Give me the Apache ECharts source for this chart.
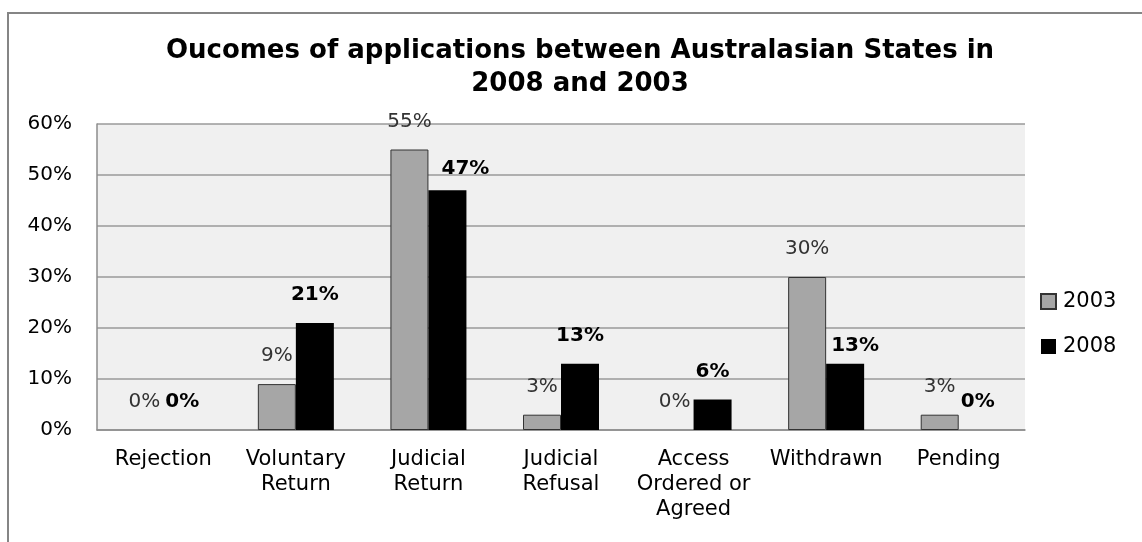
<!DOCTYPE html>
<html>
<head>
<meta charset="utf-8">
<style>
  html, body { margin: 0; padding: 0; background: #fff; }
  #chart { width: 1142px; height: 542px; }
</style>
<script src="https://cdn.jsdelivr.net/npm/echarts@6/dist/echarts.min.js"></script>
</head>
<body>
<div id="chart"></div>
<script>
// Outcome categories (x axis)
const categories = [
  'Rejection',
  'Voluntary\nReturn',
  'Judicial\nReturn',
  'Judicial\nRefusal',
  'Access\nOrdered or\nAgreed',
  'Withdrawn',
  'Pending'
];

// Share of applications per outcome, in percent
const values2003 = [0, 9, 55, 3, 0, 30, 3];
const values2008 = [0, 21, 47, 13, 6, 13, 0];

// Value axis ticks
const yMin = 0;
const yMax = 60;
const yStep = 10;

const FONT = 'DejaVu Sans';

// Nudges for 2008 labels that would otherwise collide with the neighbouring bar
const labelNudge2008 = { 2: [18, 6], 5: [10, 10] };

// Zero-height bars get no outline so they vanish into the axis
function toBarData(values, nudges) {
  return values.map((v, i) => {
    const item = { value: v };
    if (v === 0) item.itemStyle = { borderWidth: 0 };
    if (nudges && nudges[i]) item.label = { offset: nudges[i] };
    return item;
  });
}

const chart = echarts.init(document.getElementById('chart'));

chart.setOption({
  backgroundColor: '#ffffff',
  textStyle: { fontFamily: FONT },
  animation: false,
  graphic: [{
    type: 'rect',
    shape: { x: 8, y: 13, width: 1200, height: 600 },
    style: { fill: 'none', stroke: '#858585', lineWidth: 2 },
    silent: true
  }],
  title: {
    text: 'Oucomes of applications between Australasian States in\n2008 and 2003',
    left: 580,
    textAlign: 'center',
    top: 35,
    padding: 0,
    textStyle: {
      fontFamily: FONT,
      fontSize: 26,
      fontWeight: 'bold',
      color: '#000',
      lineHeight: 33
    }
  },
  legend: {
    orient: 'vertical',
    left: 1040,
    top: 291,
    padding: 0,
    itemWidth: 15,
    itemHeight: 15,
    itemGap: 24,
    icon: 'rect',
    textStyle: { fontFamily: FONT, fontSize: 21, color: '#000', padding: [0, 0, 0, 2] },
    data: ['2003', '2008']
  },
  grid: {
    left: 97,
    top: 124,
    right: 117,
    bottom: 112,
    show: true,
    backgroundColor: '#f0f0f0',
    borderWidth: 0
  },
  xAxis: {
    type: 'category',
    data: categories,
    axisLine: { show: true, lineStyle: { color: '#8c8c8c', width: 1.5 } },
    axisTick: { show: false },
    axisLabel: {
      interval: 0,
      margin: 17,
      fontFamily: FONT,
      fontSize: 21,
      lineHeight: 25,
      color: '#000'
    }
  },
  yAxis: {
    type: 'value',
    min: yMin,
    max: yMax,
    interval: yStep,
    axisLine: { show: true, lineStyle: { color: '#8c8c8c', width: 1.5 } },
    axisTick: { show: false },
    splitLine: { lineStyle: { color: '#9a9a9a', width: 1.5 } },
    axisLabel: {
      formatter: '{value}%',
      margin: 25,
      fontFamily: FONT,
      fontSize: 20,
      color: '#000'
    }
  },
  series: [
    {
      name: '2003',
      type: 'bar',
      data: toBarData(values2003),
      barWidth: 38,
      barGap: '0%',
      itemStyle: { color: '#a6a6a6', borderColor: '#333', borderWidth: 1 },
      label: {
        show: true,
        position: 'top',
        distance: 18,
        formatter: '{c}%',
        fontFamily: FONT,
        fontSize: 20,
        color: '#333'
      }
    },
    {
      name: '2008',
      type: 'bar',
      data: toBarData(values2008, labelNudge2008),
      barWidth: 38,
      barGap: '0%',
      itemStyle: { color: '#000' },
      label: {
        show: true,
        position: 'top',
        distance: 18,
        formatter: '{c}%',
        fontFamily: FONT,
        fontSize: 20,
        fontWeight: 'bold',
        color: '#000'
      }
    }
  ]
});
</script>
</body>
</html>
